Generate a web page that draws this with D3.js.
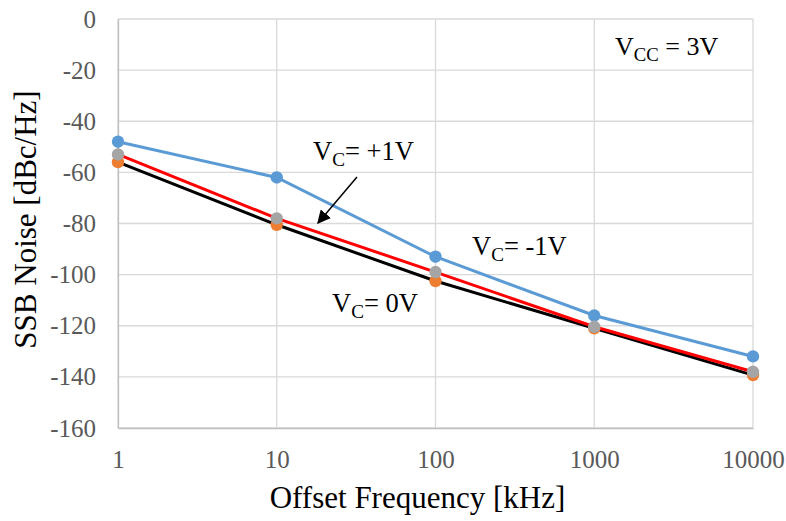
<!DOCTYPE html>
<html>
<head>
<meta charset="utf-8">
<script src="https://cdn.jsdelivr.net/npm/d3@7"></script>
<style>
  body { margin: 0; background: #fff; }
  svg text { font-family: "Liberation Serif", "Times New Roman", serif; }
</style>
</head>
<body>
<div id="chart"></div>
<script>
const width = 786;
const height = 521;

// data
const freqs = [1, 10, 100, 1000, 10000];            // kHz
const vcMinus1 = [-48, -62, -93, -116, -132];       // blue
const vcZero = [-56, -80.5, -102.5, -121, -139.3];  // orange markers, black line
const vcPlus1 = [-53, -78, -99, -120.4, -138];      // grey markers, red line
const yTicks = [0, -20, -40, -60, -80, -100, -120, -140, -160];
const xTickLabels = ["1", "10", "100", "1000", "10000"];

const series = [
    { name: "VC=-1V", values: vcMinus1, line: "#5B9BD5", marker: "#5B9BD5" },
    { name: "VC=0V", values: vcZero, line: "#000000", marker: "#ED7D31" },
    { name: "VC=+1V", values: vcPlus1, line: "#FF0000", marker: "#A5A5A5" }
];

const margin = { top: 19, right: 33, bottom: 93, left: 118 };
const w = width - margin.left - margin.right;
const h = height - margin.top - margin.bottom;
const serif = "Liberation Serif";

const svg = d3.select("#chart")
    .append("svg")
    .attr("width", width)
    .attr("height", height)
    .attr("font-family", serif);

const g = svg.append("g")
    .attr("transform", `translate(${margin.left},${margin.top})`);

const x = d3.scaleLog().domain([1, 10000]).range([0, w]);
const y = d3.scaleLinear().domain([-160, 0]).range([h, 0]);

// grid
g.append("g")
    .selectAll("line")
    .data(yTicks)
    .enter()
    .append("line")
    .attr("x1", 0).attr("x2", w)
    .attr("y1", d => y(d)).attr("y2", d => y(d))
    .attr("stroke", "#D9D9D9")
    .attr("stroke-width", 1.3);

g.append("g")
    .selectAll("line")
    .data(freqs)
    .enter()
    .append("line")
    .attr("y1", 0).attr("y2", h)
    .attr("x1", d => x(d)).attr("x2", d => x(d))
    .attr("stroke", "#D9D9D9")
    .attr("stroke-width", 1.3);

// axes
const yAxis = g.append("g")
    .call(d3.axisLeft(y).tickValues(yTicks).tickFormat(d => String(d)).tickSize(0).tickPadding(22));
yAxis.attr("font-family", serif);
yAxis.select(".domain").attr("stroke", "#BFBFBF").attr("stroke-width", 1.3);
yAxis.selectAll("text")
    .attr("fill", "#595959")
    .attr("font-family", serif)
    .attr("font-size", 25);

const xAxis = g.append("g")
    .attr("transform", `translate(0,${h})`)
    .call(d3.axisBottom(x).tickValues(freqs).tickFormat((d, i) => xTickLabels[i]).tickSize(0).tickPadding(22));
xAxis.attr("font-family", serif);
xAxis.select(".domain").attr("stroke", "#BFBFBF").attr("stroke-width", 1.3);
xAxis.selectAll("text")
    .attr("fill", "#595959")
    .attr("font-family", serif)
    .attr("font-size", 25);

// axis titles
svg.append("text")
    .attr("transform", `translate(36,${margin.top + h / 2 - 4}) rotate(-90)`)
    .attr("text-anchor", "middle")
    .attr("font-size", 31)
    .text("SSB Noise [dBc/Hz]");

svg.append("text")
    .attr("x", margin.left + w / 2 - 18)
    .attr("y", 508)
    .attr("text-anchor", "middle")
    .attr("font-size", 31)
    .text("Offset Frequency [kHz]");

// lines
const line = d3.line()
    .x((d, i) => x(freqs[i]))
    .y(d => y(d));

series.forEach(s => {
    g.append("path")
        .datum(s.values)
        .attr("fill", "none")
        .attr("stroke", s.line)
        .attr("stroke-width", 3)
        .attr("d", line);
});

// markers
series.forEach(s => {
    g.append("g")
        .selectAll("circle")
        .data(s.values)
        .enter()
        .append("circle")
        .attr("cx", (d, i) => x(freqs[i]))
        .attr("cy", d => y(d))
        .attr("r", 6.2)
        .attr("fill", s.marker);
});

// annotations
function label(px, py, main, sub, rest, size) {
    const t = svg.append("text")
        .attr("x", px)
        .attr("y", py)
        .attr("font-size", size);
    t.append("tspan").text(main);
    t.append("tspan").attr("dy", 6).attr("font-size", size * 0.72).text(sub);
    t.append("tspan").attr("dy", -6).text(rest);
}

label(615, 55, "V", "CC", " = 3V", 26);
label(313, 160, "V", "C", "= +1V", 26.5);
label(472, 255, "V", "C", "= -1V", 26.5);
label(332, 312, "V", "C", "= 0V", 26.5);

// arrow
svg.append("defs").append("marker")
    .attr("id", "arrow")
    .attr("viewBox", "0 0 10 10")
    .attr("refX", 9)
    .attr("refY", 5)
    .attr("markerWidth", 9)
    .attr("markerHeight", 9)
    .attr("orient", "auto")
    .append("path")
    .attr("d", "M0,0 L10,5 L0,10 z")
    .attr("fill", "#000");

svg.append("line")
    .attr("x1", 357).attr("y1", 177)
    .attr("x2", 318).attr("y2", 223)
    .attr("stroke", "#000")
    .attr("stroke-width", 1.5)
    .attr("marker-end", "url(#arrow)");
</script>
</body>
</html>
